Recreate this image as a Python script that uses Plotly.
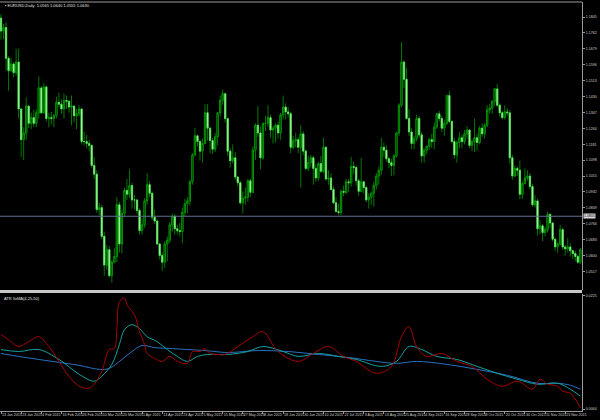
import plotly.graph_objects as go
import pandas as pd

symbol_title = "EURUSD,Daily  1.0565 1.0640 1.0555 1.0630"
atr_title = "ATR 3xMA(4,25,50)"
first_date = "2015-01-13"

opens = [
    1.1840, 1.1772, 1.1790, 1.1630, 1.1565, 1.1600, 1.1555, 1.1610, 1.1365, 1.1205,
    1.1240, 1.1380, 1.1290, 1.1320, 1.1290, 1.1345, 1.1475, 1.1345, 1.1480, 1.1315,
    1.1320, 1.1315, 1.1330, 1.1400, 1.1390, 1.1365, 1.1410, 1.1405, 1.1375, 1.1380,
    1.1330, 1.1340, 1.1365, 1.1195, 1.1195, 1.1185, 1.1175, 1.1070, 1.1025, 1.0840,
    1.0850, 1.0700, 1.0550, 1.0630, 1.0495, 1.0565, 1.0595, 1.0865, 1.0660, 1.0820,
    1.0940, 1.0920, 1.0965, 1.0890, 1.0890, 1.0835, 1.0730, 1.0760, 1.0885, 1.0970,
    1.0925, 1.0800, 1.0780, 1.0660, 1.0600, 1.0565, 1.0660, 1.0680, 1.0760, 1.0805,
    1.0740, 1.0730, 1.0725, 1.0825, 1.0870, 1.0885, 1.0985, 1.1125, 1.1225, 1.1195,
    1.1145, 1.1185, 1.1345, 1.1265, 1.1200, 1.1155, 1.1220, 1.1345, 1.1410, 1.1445,
    1.1315, 1.1145, 1.1095, 1.1110, 1.1010, 1.0980, 1.0875, 1.0900, 1.0905, 1.0990,
    1.0930, 1.1150, 1.1280, 1.1240, 1.1110, 1.1290, 1.1290, 1.1320, 1.1255, 1.1265,
    1.1280, 1.1240, 1.1335, 1.1375, 1.1350, 1.1340, 1.1165, 1.1200, 1.1205, 1.1165,
    1.1235, 1.1145, 1.1055, 1.1085, 1.1110, 1.1055, 1.1005, 1.1080, 1.1040, 1.1165,
    1.1000, 1.1005, 1.0945, 1.0875, 1.0830, 1.0825, 1.0935, 1.0930, 1.0985, 1.0980,
    1.1065, 1.1060, 1.0990, 1.0935, 1.0985, 1.0955, 1.0890, 1.0905, 1.0925, 1.0965,
    1.1015, 1.1045, 1.1165, 1.1150, 1.1105, 1.1085, 1.1070, 1.1120, 1.1240, 1.1385,
    1.1610, 1.1520, 1.1315, 1.1245, 1.1185, 1.1210, 1.1315, 1.1230, 1.1120, 1.1150,
    1.1170, 1.1205, 1.1195, 1.1270, 1.1340, 1.1315, 1.1265, 1.1290, 1.1435, 1.1300,
    1.1195, 1.1125, 1.1190, 1.1215, 1.1195, 1.1235, 1.1255, 1.1175, 1.1195, 1.1215,
    1.1190, 1.1265, 1.1235, 1.1280, 1.1360, 1.1370, 1.1405, 1.1470, 1.1385, 1.1345,
    1.1320, 1.1350, 1.1345, 1.1110, 1.1015, 1.1055, 1.1045, 1.0920, 1.0975, 1.1005,
    1.1015, 1.0960, 1.0865, 1.0885, 1.0740, 1.0755, 1.0720, 1.0735, 1.0815, 1.0770,
    1.0685, 1.0645, 1.0660, 1.0735, 1.0645, 1.0635, 1.0645, 1.0625, 1.0610, 1.0595,
    1.0565,
]
highs = [
    1.1860, 1.1810, 1.1817, 1.1640, 1.1632, 1.1610, 1.1680, 1.1680, 1.1370, 1.1270,
    1.1425, 1.1385, 1.1345, 1.1360, 1.1365, 1.1535, 1.1485, 1.1500, 1.1490, 1.1345,
    1.1350, 1.1340, 1.1430, 1.1450, 1.1415, 1.1445, 1.1435, 1.1410, 1.1435, 1.1385,
    1.1365, 1.1385, 1.1370, 1.1245, 1.1230, 1.1205, 1.1180, 1.1115, 1.1045, 1.0875,
    1.0865, 1.0725, 1.0655, 1.0650, 1.0575, 1.0640, 1.0905, 1.0880, 1.0840, 1.0955,
    1.1000, 1.1050, 1.0980, 1.0915, 1.0895, 1.0845, 1.0795, 1.0900, 1.1030, 1.0990,
    1.0935, 1.0840, 1.0790, 1.0665, 1.0615, 1.0675, 1.0700, 1.0775, 1.0820, 1.0815,
    1.0760, 1.0770, 1.0850, 1.0895, 1.0905, 1.0995, 1.1135, 1.1265, 1.1230, 1.1205,
    1.1210, 1.1390, 1.1390, 1.1270, 1.1215, 1.1240, 1.1350, 1.1435, 1.1467, 1.1450,
    1.1320, 1.1160, 1.1180, 1.1140, 1.1015, 1.0990, 1.0935, 1.0955, 1.1000, 1.1000,
    1.1170, 1.1290, 1.1380, 1.1275, 1.1295, 1.1330, 1.1385, 1.1335, 1.1275, 1.1290,
    1.1300, 1.1345, 1.1435, 1.1395, 1.1375, 1.1350, 1.1225, 1.1240, 1.1220, 1.1280,
    1.1250, 1.1155, 1.1120, 1.1125, 1.1120, 1.1075, 1.1090, 1.1120, 1.1215, 1.1170,
    1.1045, 1.1030, 1.0960, 1.0905, 1.0870, 1.0945, 1.0965, 1.1000, 1.1000, 1.1115,
    1.1090, 1.1070, 1.1000, 1.1110, 1.0990, 1.0965, 1.0925, 1.0935, 1.0985, 1.1030,
    1.1065, 1.1215, 1.1190, 1.1175, 1.1115, 1.1105, 1.1130, 1.1245, 1.1395, 1.1714,
    1.1620, 1.1580, 1.1365, 1.1265, 1.1225, 1.1335, 1.1330, 1.1245, 1.1160, 1.1175,
    1.1215, 1.1235, 1.1295, 1.1345, 1.1355, 1.1330, 1.1310, 1.1440, 1.1460, 1.1305,
    1.1215, 1.1200, 1.1245, 1.1230, 1.1255, 1.1275, 1.1260, 1.1205, 1.1315, 1.1235,
    1.1275, 1.1290, 1.1290, 1.1385, 1.1390, 1.1410, 1.1475, 1.1495, 1.1395, 1.1355,
    1.1385, 1.1370, 1.1360, 1.1125, 1.1070, 1.1065, 1.1095, 1.0985, 1.1055, 1.1045,
    1.1030, 1.0975, 1.0915, 1.0895, 1.0785, 1.0765, 1.0750, 1.0830, 1.0820, 1.0775,
    1.0695, 1.0670, 1.0760, 1.0745, 1.0655, 1.0690, 1.0665, 1.0630, 1.0625, 1.0605,
    1.0640,
]
lows = [
    1.1727, 1.1729, 1.1567, 1.1460, 1.1560, 1.1530, 1.1540, 1.1315, 1.1115, 1.1098,
    1.1205, 1.1265, 1.1260, 1.1270, 1.1270, 1.1315, 1.1340, 1.1340, 1.1300, 1.1270,
    1.1285, 1.1270, 1.1315, 1.1375, 1.1340, 1.1315, 1.1365, 1.1345, 1.1280, 1.1295,
    1.1260, 1.1325, 1.1180, 1.1175, 1.1160, 1.1145, 1.1060, 1.1000, 1.0825, 1.0810,
    1.0685, 1.0495, 1.0525, 1.0485, 1.0458, 1.0560, 1.0565, 1.0615, 1.0610, 1.0800,
    1.0890, 1.0900, 1.0845, 1.0840, 1.0815, 1.0710, 1.0710, 1.0745, 1.0865, 1.0905,
    1.0785, 1.0765, 1.0655, 1.0580, 1.0520, 1.0535, 1.0570, 1.0665, 1.0725, 1.0710,
    1.0710, 1.0700, 1.0665, 1.0805, 1.0820, 1.0860, 1.0970, 1.1120, 1.1170, 1.1095,
    1.1085, 1.1180, 1.1200, 1.1135, 1.1130, 1.1140, 1.1175, 1.1325, 1.1385, 1.1295,
    1.1120, 1.1060, 1.1080, 1.0995, 1.0965, 1.0865, 1.0820, 1.0865, 1.0880, 1.0905,
    1.0925, 1.1100, 1.1220, 1.1050, 1.1100, 1.1250, 1.1270, 1.1215, 1.1185, 1.1190,
    1.1210, 1.1205, 1.1310, 1.1310, 1.1320, 1.1135, 1.1155, 1.1165, 1.1135, 1.0955,
    1.1125, 1.1045, 1.1040, 1.1060, 1.0970, 1.0985, 1.0990, 1.1030, 1.1030, 1.0990,
    1.0970, 1.0940, 1.0870, 1.0825, 1.0810, 1.0810, 1.0910, 1.0920, 1.0930, 1.0960,
    1.1025, 1.0965, 1.0910, 1.0930, 1.0925, 1.0880, 1.0845, 1.0865, 1.0855, 1.0945,
    1.0970, 1.1020, 1.1115, 1.1090, 1.1055, 1.1015, 1.1020, 1.1110, 1.1225, 1.1375,
    1.1475, 1.1310, 1.1225, 1.1155, 1.1155, 1.1195, 1.1215, 1.1085, 1.1085, 1.1130,
    1.1150, 1.1160, 1.1155, 1.1260, 1.1300, 1.1245, 1.1225, 1.1280, 1.1290, 1.1185,
    1.1105, 1.1085, 1.1160, 1.1160, 1.1180, 1.1210, 1.1160, 1.1145, 1.1140, 1.1150,
    1.1180, 1.1220, 1.1210, 1.1270, 1.1340, 1.1340, 1.1380, 1.1375, 1.1325, 1.1310,
    1.1310, 1.1330, 1.1080, 1.0995, 1.1010, 1.1015, 1.0895, 1.0895, 1.0975, 1.0990,
    1.0945, 1.0855, 1.0850, 1.0705, 1.0710, 1.0675, 1.0700, 1.0720, 1.0745, 1.0675,
    1.0625, 1.0615, 1.0655, 1.0630, 1.0600, 1.0615, 1.0595, 1.0580, 1.0570, 1.0557,
    1.0555,
]
closes = [
    1.1772, 1.1790, 1.1630, 1.1565, 1.1600, 1.1555, 1.1610, 1.1365, 1.1205, 1.1240,
    1.1380, 1.1290, 1.1320, 1.1290, 1.1345, 1.1475, 1.1345, 1.1480, 1.1315, 1.1320,
    1.1315, 1.1330, 1.1400, 1.1390, 1.1365, 1.1410, 1.1405, 1.1375, 1.1380, 1.1330,
    1.1340, 1.1365, 1.1195, 1.1195, 1.1185, 1.1175, 1.1070, 1.1025, 1.0840, 1.0850,
    1.0700, 1.0550, 1.0630, 1.0495, 1.0565, 1.0595, 1.0865, 1.0660, 1.0820, 1.0940,
    1.0920, 1.0965, 1.0890, 1.0890, 1.0835, 1.0730, 1.0760, 1.0885, 1.0970, 1.0925,
    1.0800, 1.0780, 1.0660, 1.0600, 1.0565, 1.0660, 1.0680, 1.0760, 1.0805, 1.0740,
    1.0730, 1.0725, 1.0825, 1.0870, 1.0885, 1.0985, 1.1125, 1.1225, 1.1195, 1.1145,
    1.1185, 1.1345, 1.1265, 1.1200, 1.1155, 1.1220, 1.1345, 1.1410, 1.1445, 1.1315,
    1.1145, 1.1095, 1.1110, 1.1010, 1.0980, 1.0875, 1.0900, 1.0905, 1.0990, 1.0930,
    1.1150, 1.1280, 1.1240, 1.1110, 1.1290, 1.1290, 1.1320, 1.1255, 1.1265, 1.1280,
    1.1240, 1.1335, 1.1375, 1.1350, 1.1340, 1.1165, 1.1200, 1.1205, 1.1165, 1.1235,
    1.1145, 1.1055, 1.1085, 1.1110, 1.1055, 1.1005, 1.1080, 1.1040, 1.1165, 1.1000,
    1.1005, 1.0945, 1.0875, 1.0830, 1.0825, 1.0935, 1.0930, 1.0985, 1.0980, 1.1065,
    1.1060, 1.0990, 1.0935, 1.0985, 1.0955, 1.0890, 1.0905, 1.0925, 1.0965, 1.1015,
    1.1045, 1.1165, 1.1150, 1.1105, 1.1085, 1.1070, 1.1120, 1.1240, 1.1385, 1.1610,
    1.1520, 1.1315, 1.1245, 1.1185, 1.1210, 1.1315, 1.1230, 1.1120, 1.1150, 1.1170,
    1.1205, 1.1195, 1.1270, 1.1340, 1.1315, 1.1265, 1.1290, 1.1435, 1.1300, 1.1195,
    1.1125, 1.1190, 1.1215, 1.1195, 1.1235, 1.1255, 1.1175, 1.1195, 1.1215, 1.1190,
    1.1265, 1.1235, 1.1280, 1.1360, 1.1370, 1.1405, 1.1470, 1.1385, 1.1345, 1.1320,
    1.1350, 1.1345, 1.1110, 1.1015, 1.1055, 1.1045, 1.0920, 1.0975, 1.1005, 1.1015,
    1.0960, 1.0865, 1.0885, 1.0740, 1.0755, 1.0720, 1.0735, 1.0815, 1.0770, 1.0685,
    1.0645, 1.0660, 1.0735, 1.0645, 1.0635, 1.0645, 1.0625, 1.0610, 1.0595, 1.0565,
    1.0630,
]

price_ticks = [1.0517, 1.0600, 1.0683, 1.0766, 1.0849, 1.0932, 1.1015, 1.1098, 1.1181,
               1.1264, 1.1347, 1.1430, 1.1513, 1.1596, 1.1679, 1.1762, 1.1845]
level_line = 1.0805

# ATR indicator lines (bar index, value)
atr_fast_bars = [0, 3, 7, 11, 15, 19, 23, 27, 31, 35, 37, 40, 43, 45, 46, 47, 49, 50, 53, 55,
                 57, 58, 61, 64, 67, 70, 74, 76, 79, 81, 83, 86, 89, 94, 100, 104, 110, 118,
                 124, 130, 136, 141, 149, 155, 159, 162, 165, 169, 175, 181, 187, 193, 199,
                 205, 211, 214, 217, 221, 223, 226, 228, 230]
atr_fast = [0.01699, 0.01629, 0.01530, 0.01600, 0.01671, 0.01530, 0.01318, 0.01106, 0.00965,
            0.00937, 0.00993, 0.01177, 0.01487, 0.01501, 0.01784, 0.02165, 0.02222, 0.02123,
            0.01982, 0.01742, 0.01558, 0.01431, 0.01360, 0.01318, 0.01389, 0.01318, 0.01290,
            0.01459, 0.01459, 0.01501, 0.01431, 0.01417, 0.01417, 0.01530, 0.01671, 0.01742,
            0.01459, 0.01318, 0.01431, 0.01530, 0.01389, 0.01318, 0.01149, 0.01247, 0.01671,
            0.01812, 0.01530, 0.01389, 0.01431, 0.01318, 0.01247, 0.01064, 0.00965, 0.01036,
            0.00923, 0.01064, 0.00993, 0.00965, 0.00894, 0.00866, 0.00782, 0.00660]
atr_mid_bars = [0, 7, 15, 23, 31, 37, 40, 44, 47, 49, 52, 55, 58, 62, 66, 70, 74, 78, 82, 86,
                90, 98, 104, 112, 118, 126, 134, 141, 151, 157, 162, 167, 173, 181, 189, 197,
                205, 213, 221, 226, 230]
atr_mid = [0.01487, 0.01459, 0.01487, 0.01346, 0.01135, 0.01036, 0.01106, 0.01276, 0.01558,
           0.01770, 0.01841, 0.01784, 0.01671, 0.01600, 0.01487, 0.01389, 0.01318, 0.01389,
           0.01417, 0.01417, 0.01417, 0.01459, 0.01530, 0.01459, 0.01389, 0.01431, 0.01389,
           0.01346, 0.01247, 0.01318, 0.01530, 0.01487, 0.01389, 0.01346, 0.01247, 0.01149,
           0.01064, 0.00993, 0.01007, 0.00923, 0.00824]
atr_slow_bars = [0, 7, 15, 23, 31, 39, 43, 48, 52, 56, 61, 68, 74, 81, 90, 102, 114, 126, 138,
                 149, 157, 165, 177, 189, 201, 213, 221, 226, 230]
atr_slow = [0.01431, 0.01389, 0.01346, 0.01304, 0.01262, 0.01205, 0.01219, 0.01346, 0.01459,
            0.01544, 0.01515, 0.01501, 0.01487, 0.01473, 0.01445, 0.01473, 0.01459, 0.01417,
            0.01374, 0.01318, 0.01290, 0.01318, 0.01276, 0.01205, 0.01120, 0.01007, 0.01007,
            0.00979, 0.00923]
atr_ticks = [0.0225, 0.0064]

n = len(closes)
bars = list(range(n))
dates = pd.bdate_range(first_date, periods=n)
date_tick_bars = list(range(0, n, 8))
date_tick_text = [f"{dates[i].day} {dates[i].strftime('%b %Y')}" for i in date_tick_bars]

# candle bodies (open/close extent) drawn over the full-range wicks
body_top = [max(o, c) for o, c in zip(opens, closes)]
body_bot = [min(o, c) for o, c in zip(opens, closes)]

W, H = 600, 420
px_x = lambda p: p / W
px_y = lambda p: 1 - p / H
plot_right = px_x(586)

font_family = "Liberation Sans Narrow, Liberation Sans, Arial"
label_col = "#d0d0d0"
axis_col = "#9a9a9a"
fs = 3.6

fig = go.Figure()
# wicks
fig.add_trace(go.Candlestick(
    x=bars, open=opens, high=highs, low=lows, close=closes,
    xaxis="x", yaxis="y",
    increasing=dict(line=dict(color="#007800", width=1), fillcolor="#007800"),
    decreasing=dict(line=dict(color="#007800", width=1), fillcolor="#007800"),
    whiskerwidth=0, hoverinfo="skip",
))
# bodies
fig.add_trace(go.Candlestick(
    x=bars, open=opens, high=body_top, low=body_bot, close=closes,
    xaxis="x", yaxis="y",
    increasing=dict(line=dict(color="#00a800", width=0.8), fillcolor="#000000"),
    decreasing=dict(line=dict(color="#50e050", width=0.8), fillcolor="#f0fff0"),
    whiskerwidth=0, hoverinfo="skip",
))
fig.add_trace(go.Scatter(x=atr_slow_bars, y=atr_slow, mode="lines", xaxis="x2", yaxis="y2",
                         line=dict(color="#2872c0", width=1, shape="spline"), hoverinfo="skip"))
fig.add_trace(go.Scatter(x=atr_mid_bars, y=atr_mid, mode="lines", xaxis="x2", yaxis="y2",
                         line=dict(color="#16a0a0", width=1, shape="spline"), hoverinfo="skip"))
fig.add_trace(go.Scatter(x=atr_fast_bars, y=atr_fast, mode="lines", xaxis="x2", yaxis="y2",
                         line=dict(color="#a80000", width=1, shape="spline"), hoverinfo="skip"))

xr = [-0.4, 230.7]
tickfont = dict(family=font_family, size=fs, color=label_col)

fig.update_layout(
    width=W, height=H,
    margin=dict(l=0, r=0, t=0, b=0),
    paper_bgcolor="#000000", plot_bgcolor="#000000",
    showlegend=False,
    xaxis=dict(domain=[0, plot_right], range=xr, anchor="y", showticklabels=False,
               showgrid=False, zeroline=False, rangeslider=dict(visible=False), fixedrange=True),
    yaxis=dict(domain=[px_y(290), px_y(2)], range=[1.04200, 1.19237], side="right",
               tickvals=price_ticks, tickformat=".4f", ticks="outside", ticklen=2,
               tickcolor=axis_col, showline=True, linecolor=axis_col, linewidth=1,
               showgrid=False, zeroline=False, tickfont=tickfont, anchor="x"),
    xaxis2=dict(domain=[0, plot_right], range=xr, anchor="y2", matches="x",
                tickvals=date_tick_bars, ticktext=date_tick_text, ticks="outside",
                ticklen=2, tickcolor=axis_col, ticklabelposition="outside right",
                tickangle=0, showline=True, linecolor=axis_col, linewidth=1, showgrid=False,
                zeroline=False, tickfont=tickfont),
    yaxis2=dict(domain=[px_y(411), px_y(294)], range=[0.00612, 0.02278], side="right",
                tickvals=atr_ticks, tickformat=".4f", ticks="outside", ticklen=2,
                tickcolor=axis_col, showline=True, linecolor=axis_col, linewidth=1,
                showgrid=False, zeroline=False, tickfont=tickfont, anchor="x2"),
)

shapes = [
    dict(type="line", xref="paper", yref="paper", x0=0, x1=plot_right,
         y0=px_y(2), y1=px_y(2), line=dict(color=axis_col, width=1)),
    dict(type="rect", xref="paper", yref="paper", x0=0, x1=plot_right,
         y0=px_y(293), y1=px_y(290), fillcolor="#c8c8c8", line=dict(width=0)),
    dict(type="line", xref="paper", yref="y", x0=0, x1=plot_right,
         y0=level_line, y1=level_line, line=dict(color="#5f6f8f", width=1)),
]
fig.update_layout(shapes=shapes)

fig.add_annotation(x=plot_right + 0.002, y=level_line, xref="paper", yref="y",
                   text=f"{level_line:.4f}", showarrow=False, xanchor="left",
                   font=dict(family=font_family, size=fs, color="#000000"),
                   bgcolor="#d8d8d8", borderpad=0)
fig.add_annotation(x=px_x(3), y=px_y(6), xref="paper", yref="paper",
                   text="▪ " + symbol_title, showarrow=False, xanchor="left", yanchor="middle",
                   font=dict(family=font_family, size=4, color="#e0e0e0"))
fig.add_annotation(x=px_x(2), y=px_y(298), xref="paper", yref="paper",
                   text=atr_title, showarrow=False, xanchor="left", yanchor="middle",
                   font=dict(family=font_family, size=4, color="#e0e0e0"))

fig.write_html(
    "out.html",
    config={"displayModeBar": False},
    post_script="document.body.style.margin='0';document.body.style.overflow='hidden';",
)
